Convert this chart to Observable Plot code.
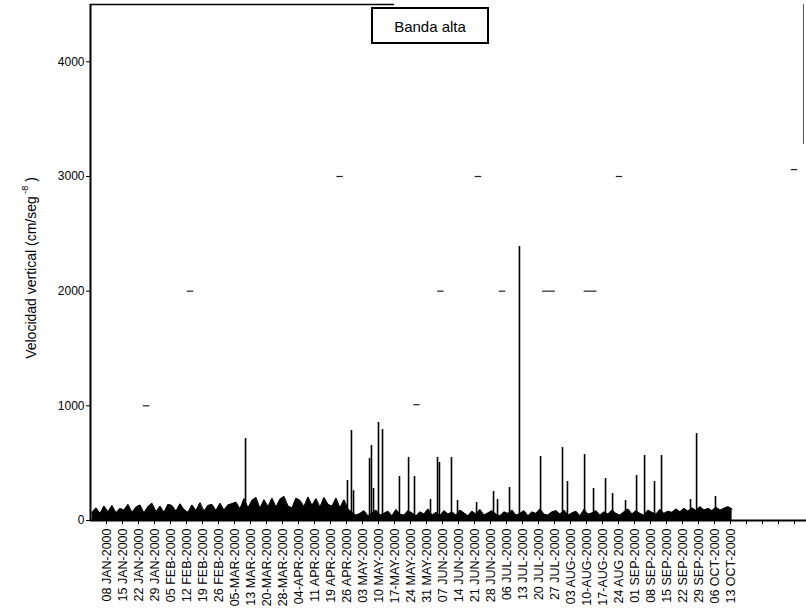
<!DOCTYPE html>
<html>
<head>
<meta charset="utf-8">
<script src="https://cdn.jsdelivr.net/npm/d3@7"></script>
<script src="https://cdn.jsdelivr.net/npm/@observablehq/plot@0.6"></script>
<style>
  html, body { margin: 0; padding: 0; background: #fff; }
  #chart { width: 806px; height: 613px; overflow: hidden; }
</style>
</head>
<body>
<div id="chart"></div>
<script>
// Tick labels (one per tick position index 0..39; ticks 40..43 unlabeled)
const tickLabels = [
  "08 JAN-2000","15 JAN-2000","22 JAN-2000","29 JAN-2000","05 FEB-2000",
  "12 FEB-2000","19 FEB-2000","26 FEB-2000","05-MAR-2000","13 MAR-2000",
  "20-MAR-2000","28-MAR-2000","04-APR-2000","11 APR-2000","19 APR-2000",
  "26 APR-2000","03 MAY-2000","10 MAY-2000","17-MAY-2000","24 MAY-2000",
  "31 MAY-2000","07 JUN-2000","14 JUN-2000","21 JUN-2000","28 JUN-2000",
  "06 JUL-2000","13 JUL-2000","20 JUL-2000","27 JUL-2000","03 AUG-2000",
  "10-AUG-2000","17-AUG-2000","24 AUG 2000","01 SEP-2000","08 SEP-2000",
  "15 SEP-2000","22 SEP-2000","29 SEP-2000","06 OCT-2000","13 OCT-2000"
];
const tickPositions = [0,1,2,3,4,5,6,7,8,9,10,11,12,13,14,15,16,17,18,19,20,
  21,22,23,24,25,26,27,28,29,30,31,32,33,34,35,36,37,38,39,40,41,42,43];
const yTicks = [0, 1000, 2000, 3000, 4000];

// Background noise level (top of the dense band), sampled every quarter tick from tick -0.9
const noiseStart = -0.9;
const noiseStep = 0.25;
const noiseTop = [
  70,110,60,125,75,130,65,105,90,140, 70,115,135,65,120,150,75,125,70,140,
  130,80,145,95,70,135,85,155,80,130, 140,85,150,90,135,145,
  160,100,190,110,175,200,105,180,120,195, 115,185,210,125,110,195,175,120,205,130,
  190,115,200,140,125,195,110,180,100,
  70,45,60,85,40,65,90,45,60,80, 40,95,55,45,85,65,40,75,55,100,
  45,70,40,85,55,75,45,90,65,40, 80,55,95,45,65,85,55,40,75,60,
  90,45,60,85,40,75,60,100,55,45, 75,85,55,90,45,65,80,40,95,55,
  65,85,45,75,55,90,60,45,75,100, 55,85,60,45,90,70,55,95,60,80,
  70,100,75,105,80,110,85,120,90,105, 85,115,90,105,120,100
];

// Spikes: position (in tick units) and peak value
const spikePos = [8.69, 15.06, 15.31, 15.44, 16.44, 16.56, 16.69, 17.0, 17.25, 18.31,
  18.88, 19.25, 20.25, 20.69, 20.81, 21.56, 21.94, 23.13, 24.19, 24.44,
  25.19, 25.81, 27.13, 28.5, 28.81, 29.88, 30.44, 31.19, 31.63, 32.44,
  33.13, 33.63, 34.25, 34.69, 36.5, 36.88, 38.06];
const spikeVal = [715, 349, 785, 260, 540, 654, 280, 855, 793, 384,
  550, 384, 183, 550, 506, 550, 175, 157, 253, 183,
  288, 2390, 558, 636, 340, 575, 279, 366, 235, 174,
  392, 567, 340, 567, 183, 758, 209];

// Faint grid fragments visible in the scan
const gridFragPos = [2.5, 19.4, 5.25, 20.9, 24.75, 27.45, 27.85, 30.05, 30.45, 14.6, 23.25, 32.06, 43.0];
const gridFragVal = [1000, 1010, 2000, 2000, 2000, 2000, 2000, 2000, 2000, 3000, 3000, 3000, 3060];

const noise = noiseTop.map((v, i) => ({x: noiseStart + i * noiseStep, y: v}));
const spikes = spikePos.map((p, i) => ({x: p, y: spikeVal[i]}));
const frags = gridFragPos.map((p, i) => ({x: p, y: gridFragVal[i]}));

const plot = Plot.plot({
  width: 806,
  height: 613,
  marginLeft: 90,
  marginRight: 0,
  marginTop: 4,
  marginBottom: 93,
  style: {fontFamily: "'Liberation Sans', Arial, sans-serif", color: "#000", background: "#fff"},
  x: {domain: [-1, 43.75]},
  y: {domain: [0, 4500]},
  marks: [
    Plot.areaY(noise, {x: "x", y1: 0, y2: "y", fill: "#000", curve: "linear"}),
    Plot.lineY(noise, {x: "x", y: "y", stroke: "#000", strokeWidth: 1}),
    Plot.ruleX(spikes, {x: "x", y1: 0, y2: "y", stroke: "#000", strokeWidth: 1.6}),
    Plot.ruleY(frags, {y: "y", x1: d => d.x - 0.2, x2: d => d.x + 0.2, stroke: "#222", strokeWidth: 1.2}),
    Plot.ruleY([4500], {x1: -1, x2: 18, stroke: "#000", strokeWidth: 1.5}),
    Plot.ruleX([43.56], {y1: 3280, y2: 4500, stroke: "#555", strokeWidth: 1}),
    Plot.ruleX([-1], {y1: 0, y2: 4500, stroke: "#000", strokeWidth: 2}),
    Plot.ruleY([0], {stroke: "#000", strokeWidth: 2}),
    Plot.axisY({ticks: yTicks, tickSize: 4, tickPadding: 2, fontSize: 12, label: null, anchor: "left",
      tickFormat: d => String(d)}),
    Plot.axisX({ticks: tickPositions, tickSize: 4, tickPadding: 4, tickRotate: -90, fontSize: 12.5,
      tickFormat: i => tickLabels[i] ?? "", label: null, anchor: "bottom"})
  ]
});

document.getElementById("chart").appendChild(plot);

const svg = d3.select(plot);
// y-axis title with superscript
const t = svg.append("text")
  .attr("transform", "translate(31,268) rotate(-90)")
  .attr("text-anchor", "middle")
  .attr("dominant-baseline", "central")
  .attr("font-family", "'Liberation Sans', Arial, sans-serif")
  .attr("font-size", 14)
  .attr("fill", "#000");
t.append("tspan").text("Velocidad vertical (cm/seg");
t.append("tspan").attr("dy", -6).attr("font-size", 9).text(" -8");
t.append("tspan").attr("dy", 6).text(" )");

// legend box
svg.append("rect")
  .attr("x", 372).attr("y", 8).attr("width", 116).attr("height", 35)
  .attr("fill", "#fff").attr("stroke", "#000").attr("stroke-width", 2);
svg.append("text")
  .attr("x", 430).attr("y", 26)
  .attr("text-anchor", "middle").attr("dominant-baseline", "central")
  .attr("font-family", "'Liberation Sans', Arial, sans-serif")
  .attr("font-size", 15).attr("fill", "#000")
  .text("Banda alta");
</script>
</body>
</html>
